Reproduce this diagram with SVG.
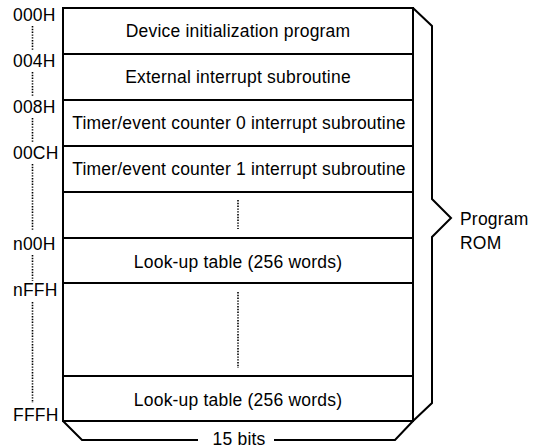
<svg xmlns="http://www.w3.org/2000/svg" width="534" height="448" viewBox="0 0 534 448">
<style>
.t{font-family:"Liberation Sans",Arial,sans-serif;font-size:17.5px;letter-spacing:0.2px;fill:#000}
.c{text-anchor:middle}
.ln{stroke:#000;stroke-width:2;fill:none}
.dot{stroke:#000;stroke-width:1.6;stroke-dasharray:1.4 1.4;fill:none}
</style>
<rect width="534" height="448" fill="#fff"/>
<g id="rom">
<rect class="ln" x="63" y="8" width="350" height="413"/>
<line class="ln" x1="63" y1="54" x2="413" y2="54"/>
<line class="ln" x1="63" y1="100" x2="413" y2="100"/>
<line class="ln" x1="63" y1="146" x2="413" y2="146"/>
<line class="ln" x1="63" y1="192" x2="413" y2="192"/>
<line class="ln" x1="63" y1="238" x2="413" y2="238"/>
<line class="ln" x1="63" y1="283" x2="413" y2="283"/>
<line class="ln" x1="63" y1="376" x2="413" y2="376"/>
</g>
<g id="row1"><text class="t c" x="238" y="37">Device initialization program</text></g>
<g id="row2"><text class="t c" x="238" y="83">External interrupt subroutine</text></g>
<g id="row3"><text class="t c" x="239" y="129">Timer/event counter 0 interrupt subroutine</text></g>
<g id="row4"><text class="t c" x="239" y="175">Timer/event counter 1 interrupt subroutine</text></g>
<g id="row5"><line class="dot" x1="238" y1="200" x2="238" y2="229"/></g>
<g id="row6"><text class="t c" x="238" y="268">Look-up table (256 words)</text></g>
<g id="row7"><line class="dot" x1="238" y1="292" x2="238" y2="368"/></g>
<g id="row8"><text class="t c" x="238" y="406">Look-up table (256 words)</text></g>
<g id="addresses">
<text class="t" x="13" y="21">000H</text>
<line class="dot" x1="32.5" y1="26" x2="32.5" y2="51"/>
<text class="t" x="13" y="67">004H</text>
<line class="dot" x1="32.5" y1="72" x2="32.5" y2="97"/>
<text class="t" x="13" y="113">008H</text>
<line class="dot" x1="32.5" y1="118" x2="32.5" y2="143"/>
<text class="t" x="13" y="159">00CH</text>
<line class="dot" x1="32.5" y1="164" x2="32.5" y2="231"/>
<text class="t" x="13" y="250">n00H</text>
<line class="dot" x1="32.5" y1="255" x2="32.5" y2="281"/>
<text class="t" x="13" y="296">nFFH</text>
<line class="dot" x1="32.5" y1="302" x2="32.5" y2="403"/>
<text class="t" x="13" y="421">FFFH</text>
</g>
<g id="connectors">
<polyline class="ln" points="413,8 432,26 432,199 451,218 432,237 432,403 413,421"/>
<polyline class="ln" points="63,421 82,440 198,440"/>
<polyline class="ln" points="274,440 395,440 413,421"/>
</g>
<g id="program-rom">
<text class="t" x="460" y="225">Program</text>
<text class="t" x="460" y="249">ROM</text>
</g>
<g id="width-label"><text class="t c" x="239" y="445">15 bits</text></g>
</svg>
